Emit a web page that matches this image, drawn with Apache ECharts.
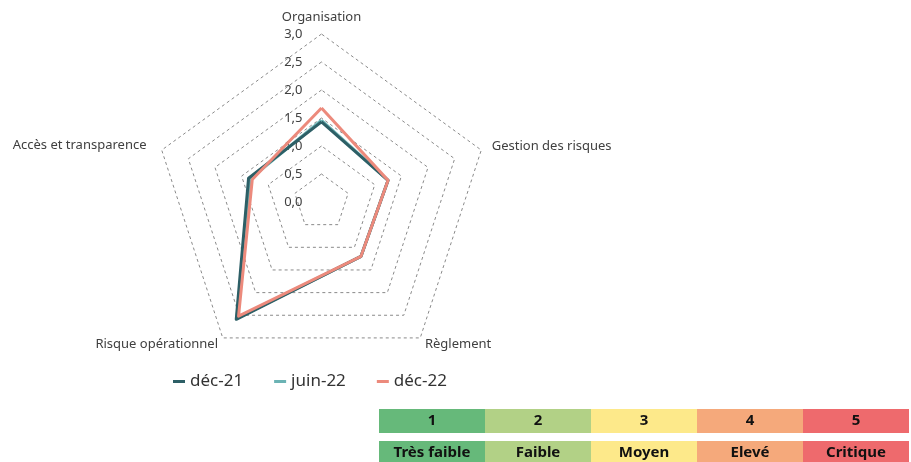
<!DOCTYPE html>
<html><head><meta charset="utf-8">
<script src="https://cdn.jsdelivr.net/npm/echarts@6/dist/echarts.min.js"></script>
<style>html,body{margin:0;padding:0;background:#fff}#c{width:911px;height:462px}</style>
</head><body><div id="c"></div>
<script>
// Categories in ECharts (counter-clockwise) drawing order, so they appear clockwise as in the reference
const indicators = ['Organisation', 'Accès et transparence', 'Risque opérationnel', 'Règlement', 'Gestion des risques'];
const seriesNames = ['déc-21', 'juin-22', 'déc-22'];
const dec21 = [1.43, 1.37, 2.59, 1.2, 1.25];
const jun22 = [1.46, 1.34, 2.57, 1.2, 1.25];
const dec22 = [1.68, 1.30, 2.52, 1.2, 1.25];
const scaleLevels = ['1', '2', '3', '4', '5'];
const scaleNames = ['Très faible', 'Faible', 'Moyen', 'Elevé', 'Critique'];
const scaleColors = ['#66b97a', '#b2d186', '#fde98a', '#f5a97b', '#ee6a6d'];
const lineColors = ['#2d5f66', '#6bb3b4', '#ec8a7c'];
const nameGaps = [10, 16, 8, 8, 11];

const chart = echarts.init(document.getElementById('c'));
const graphics = [];
const x0 = 379, cw = 106;
scaleLevels.forEach((t, i) => {
  graphics.push({type:'rect', shape:{x:x0 + i*cw, y:409, width:cw, height:24}, style:{fill:scaleColors[i]}});
  graphics.push({type:'text', x:x0 + i*cw + cw/2, y:421, style:{text:t, fill:'#111', font:'bold 15px "Noto Sans"', textAlign:'center', textVerticalAlign:'middle'}});
  graphics.push({type:'rect', shape:{x:x0 + i*cw, y:441, width:cw, height:24}, style:{fill:scaleColors[i]}});
  graphics.push({type:'text', x:x0 + i*cw + cw/2, y:453, style:{text:scaleNames[i], fill:'#111', font:'bold 15px "Noto Sans"', textAlign:'center', textVerticalAlign:'middle'}});
});

const dataSets = [dec21, jun22, dec22];
const order = [1, 0, 2];
chart.setOption({
  animation: false,
  textStyle: {fontFamily: 'Noto Sans'},
  legend: {
    data: seriesNames,
    left: 168, top: 368,
    icon: 'rect', itemWidth: 12, itemHeight: 3, itemGap: 31,
    textStyle: {fontSize: 17, color: '#333', fontFamily: 'Noto Sans'}
  },
  radar: {
    center: [321.5, 202],
    radius: 168,
    startAngle: 90,
    splitNumber: 6,
    shape: 'polygon',
    nameGap: 12,
    axisName: {color: '#404040', fontSize: 13, fontFamily: 'Noto Sans'},
    indicator: indicators.map((n, i) => {
      const o = {name: n, min: 0, max: 3, nameGap: nameGaps[i]};
      if (i === 0) o.axisLabel = {show: true, color: '#404040', fontSize: 13, margin: 19,
        formatter: v => v.toFixed(1).replace('.', ',')};
      return o;
    }),
    axisLine: {show: false},
    axisTick: {show: false},
    axisLabel: {show: false},
    splitArea: {show: false},
    splitLine: {lineStyle: {color: '#8a8a8a', width: 1, type: [3, 3]}}
  },
  series: [{
    type: 'radar',
    symbol: 'none',
    data: order.map(i => ({
      name: seriesNames[i],
      value: dataSets[i],
      lineStyle: {color: lineColors[i], width: 3},
      itemStyle: {color: lineColors[i]}
    }))
  }],
  graphic: graphics
});
</script></body></html>
